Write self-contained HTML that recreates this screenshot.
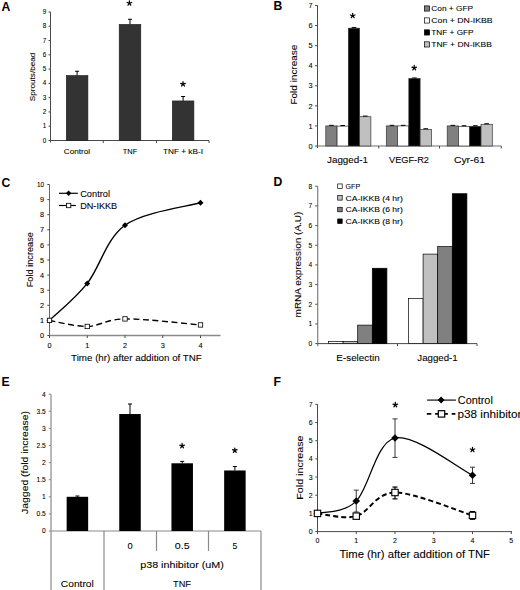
<!DOCTYPE html>
<html><head><meta charset="utf-8"><style>
html,body{margin:0;padding:0;background:#fff;}
svg{display:block;font-family:"Liberation Sans", sans-serif;}
</style></head><body>
<svg width="520" height="590" viewBox="0 0 520 590">
<rect width="520" height="590" fill="#fff"/>
<text x="1.60" y="11.30" font-size="12.2" text-anchor="start" font-weight="bold" fill="#000" >A</text>
<line x1="50.50" y1="12.00" x2="50.50" y2="142.50" stroke="#4a4a4a" stroke-width="1" />
<line x1="50.50" y1="140.50" x2="209.00" y2="140.50" stroke="#4a4a4a" stroke-width="1" />
<line x1="48.50" y1="140.50" x2="50.50" y2="140.50" stroke="#4a4a4a" stroke-width="1" />
<text x="44.50" y="142.50" font-size="6.3" text-anchor="middle" font-weight="normal" fill="#000" stroke="#000" stroke-width="0.08" >0</text>
<line x1="48.50" y1="126.22" x2="50.50" y2="126.22" stroke="#4a4a4a" stroke-width="1" />
<text x="44.50" y="128.22" font-size="6.3" text-anchor="middle" font-weight="normal" fill="#000" stroke="#000" stroke-width="0.08" >1</text>
<line x1="48.50" y1="111.94" x2="50.50" y2="111.94" stroke="#4a4a4a" stroke-width="1" />
<text x="44.50" y="113.94" font-size="6.3" text-anchor="middle" font-weight="normal" fill="#000" stroke="#000" stroke-width="0.08" >2</text>
<line x1="48.50" y1="97.66" x2="50.50" y2="97.66" stroke="#4a4a4a" stroke-width="1" />
<text x="44.50" y="99.66" font-size="6.3" text-anchor="middle" font-weight="normal" fill="#000" stroke="#000" stroke-width="0.08" >3</text>
<line x1="48.50" y1="83.38" x2="50.50" y2="83.38" stroke="#4a4a4a" stroke-width="1" />
<text x="44.50" y="85.38" font-size="6.3" text-anchor="middle" font-weight="normal" fill="#000" stroke="#000" stroke-width="0.08" >4</text>
<line x1="48.50" y1="69.10" x2="50.50" y2="69.10" stroke="#4a4a4a" stroke-width="1" />
<text x="44.50" y="71.10" font-size="6.3" text-anchor="middle" font-weight="normal" fill="#000" stroke="#000" stroke-width="0.08" >5</text>
<line x1="48.50" y1="54.82" x2="50.50" y2="54.82" stroke="#4a4a4a" stroke-width="1" />
<text x="44.50" y="56.82" font-size="6.3" text-anchor="middle" font-weight="normal" fill="#000" stroke="#000" stroke-width="0.08" >6</text>
<line x1="48.50" y1="40.54" x2="50.50" y2="40.54" stroke="#4a4a4a" stroke-width="1" />
<text x="44.50" y="42.54" font-size="6.3" text-anchor="middle" font-weight="normal" fill="#000" stroke="#000" stroke-width="0.08" >7</text>
<line x1="48.50" y1="26.26" x2="50.50" y2="26.26" stroke="#4a4a4a" stroke-width="1" />
<text x="44.50" y="28.26" font-size="6.3" text-anchor="middle" font-weight="normal" fill="#000" stroke="#000" stroke-width="0.08" >8</text>
<line x1="48.50" y1="11.98" x2="50.50" y2="11.98" stroke="#4a4a4a" stroke-width="1" />
<text x="44.50" y="13.98" font-size="6.3" text-anchor="middle" font-weight="normal" fill="#000" stroke="#000" stroke-width="0.08" >9</text>
<line x1="103.25" y1="140.50" x2="103.25" y2="143.00" stroke="#4a4a4a" stroke-width="1" />
<line x1="156.50" y1="140.50" x2="156.50" y2="143.00" stroke="#4a4a4a" stroke-width="1" />
<line x1="209.00" y1="140.50" x2="209.00" y2="143.00" stroke="#4a4a4a" stroke-width="1" />
<line x1="77.10" y1="71.25" x2="77.10" y2="75.53" stroke="#000" stroke-width="1" />
<line x1="75.10" y1="71.25" x2="79.10" y2="71.25" stroke="#000" stroke-width="1" />
<rect x="66.30" y="75.53" width="21.60" height="64.97" fill="#333" stroke="#1a1a1a" stroke-width="0.6"/>
<line x1="130.00" y1="19.25" x2="130.00" y2="24.40" stroke="#000" stroke-width="1" />
<line x1="128.00" y1="19.25" x2="132.00" y2="19.25" stroke="#000" stroke-width="1" />
<rect x="119.20" y="24.40" width="21.60" height="116.10" fill="#333" stroke="#1a1a1a" stroke-width="0.6"/>
<line x1="183.10" y1="96.50" x2="183.10" y2="100.94" stroke="#000" stroke-width="1" />
<line x1="181.10" y1="96.50" x2="185.10" y2="96.50" stroke="#000" stroke-width="1" />
<rect x="172.30" y="100.94" width="21.60" height="39.56" fill="#333" stroke="#1a1a1a" stroke-width="0.6"/>
<path d="M129.40,3.24 L129.40,0.84 M129.40,3.24 L131.68,2.50 M129.40,3.24 L130.81,5.18 M129.40,3.24 L127.99,5.18 M129.40,3.24 L127.12,2.50 " stroke="#000" stroke-width="1.25" stroke-linecap="round" fill="none"/>
<path d="M183.00,84.04 L183.00,81.64 M183.00,84.04 L185.28,83.30 M183.00,84.04 L184.41,85.98 M183.00,84.04 L181.59,85.98 M183.00,84.04 L180.72,83.30 " stroke="#000" stroke-width="1.25" stroke-linecap="round" fill="none"/>
<text x="77.00" y="154.00" font-size="7.3" text-anchor="middle" font-weight="normal" fill="#000" stroke="#000" stroke-width="0.08" textLength="26.30" lengthAdjust="spacingAndGlyphs" >Control</text>
<text x="130.00" y="154.00" font-size="7.3" text-anchor="middle" font-weight="normal" fill="#000" stroke="#000" stroke-width="0.08" textLength="14.50" lengthAdjust="spacingAndGlyphs" >TNF</text>
<text x="183.00" y="154.00" font-size="7.3" text-anchor="middle" font-weight="normal" fill="#000" stroke="#000" stroke-width="0.08" textLength="40.00" lengthAdjust="spacingAndGlyphs" >TNF + kB-I</text>
<text x="35.44" y="76.90" font-size="7.5" text-anchor="middle" font-weight="normal" fill="#000" stroke="#000" stroke-width="0.08" textLength="48.60" lengthAdjust="spacingAndGlyphs" transform="rotate(-90 35.44 76.90)" >Sprouts/bead</text>
<text x="273.60" y="9.60" font-size="12.2" text-anchor="start" font-weight="bold" fill="#000" >B</text>
<line x1="317.50" y1="5.50" x2="317.50" y2="148.00" stroke="#4a4a4a" stroke-width="1" />
<line x1="317.50" y1="146.00" x2="501.25" y2="146.00" stroke="#707070" stroke-width="1.2" />
<line x1="315.00" y1="146.00" x2="317.50" y2="146.00" stroke="#4a4a4a" stroke-width="1" />
<text x="310.60" y="148.70" font-size="7.4" text-anchor="middle" font-weight="normal" fill="#000" stroke="#000" stroke-width="0.08" >0</text>
<line x1="315.00" y1="125.93" x2="317.50" y2="125.93" stroke="#4a4a4a" stroke-width="1" />
<text x="310.60" y="128.63" font-size="7.4" text-anchor="middle" font-weight="normal" fill="#000" stroke="#000" stroke-width="0.08" >1</text>
<line x1="315.00" y1="105.86" x2="317.50" y2="105.86" stroke="#4a4a4a" stroke-width="1" />
<text x="310.60" y="108.56" font-size="7.4" text-anchor="middle" font-weight="normal" fill="#000" stroke="#000" stroke-width="0.08" >2</text>
<line x1="315.00" y1="85.79" x2="317.50" y2="85.79" stroke="#4a4a4a" stroke-width="1" />
<text x="310.60" y="88.49" font-size="7.4" text-anchor="middle" font-weight="normal" fill="#000" stroke="#000" stroke-width="0.08" >3</text>
<line x1="315.00" y1="65.72" x2="317.50" y2="65.72" stroke="#4a4a4a" stroke-width="1" />
<text x="310.60" y="68.42" font-size="7.4" text-anchor="middle" font-weight="normal" fill="#000" stroke="#000" stroke-width="0.08" >4</text>
<line x1="315.00" y1="45.65" x2="317.50" y2="45.65" stroke="#4a4a4a" stroke-width="1" />
<text x="310.60" y="48.35" font-size="7.4" text-anchor="middle" font-weight="normal" fill="#000" stroke="#000" stroke-width="0.08" >5</text>
<line x1="315.00" y1="25.58" x2="317.50" y2="25.58" stroke="#4a4a4a" stroke-width="1" />
<text x="310.60" y="28.28" font-size="7.4" text-anchor="middle" font-weight="normal" fill="#000" stroke="#000" stroke-width="0.08" >6</text>
<line x1="315.00" y1="5.51" x2="317.50" y2="5.51" stroke="#4a4a4a" stroke-width="1" />
<text x="310.60" y="8.21" font-size="7.4" text-anchor="middle" font-weight="normal" fill="#000" stroke="#000" stroke-width="0.08" >7</text>
<line x1="378.75" y1="146.00" x2="378.75" y2="148.50" stroke="#4a4a4a" stroke-width="1" />
<line x1="439.50" y1="146.00" x2="439.50" y2="148.50" stroke="#4a4a4a" stroke-width="1" />
<line x1="501.25" y1="146.00" x2="501.25" y2="148.50" stroke="#4a4a4a" stroke-width="1" />
<rect x="325.80" y="125.93" width="11.27" height="20.07" fill="#808080" stroke="#333" stroke-width="0.7"/>
<line x1="329.13" y1="125.33" x2="333.74" y2="125.33" stroke="#000" stroke-width="1.0" />
<rect x="337.07" y="126.13" width="11.27" height="19.87" fill="#ffffff" stroke="#333" stroke-width="0.7"/>
<line x1="340.40" y1="125.53" x2="345.00" y2="125.53" stroke="#000" stroke-width="1.0" />
<rect x="348.34" y="28.19" width="11.27" height="117.81" fill="#000000" stroke="#333" stroke-width="0.7"/>
<line x1="351.68" y1="27.59" x2="356.28" y2="27.59" stroke="#000" stroke-width="1.0" />
<rect x="359.61" y="116.70" width="11.27" height="29.30" fill="#c0c0c0" stroke="#333" stroke-width="0.7"/>
<line x1="362.94" y1="116.10" x2="367.55" y2="116.10" stroke="#000" stroke-width="1.0" />
<rect x="386.30" y="125.93" width="11.27" height="20.07" fill="#808080" stroke="#333" stroke-width="0.7"/>
<line x1="389.63" y1="125.33" x2="394.24" y2="125.33" stroke="#000" stroke-width="1.0" />
<rect x="397.57" y="125.93" width="11.27" height="20.07" fill="#ffffff" stroke="#333" stroke-width="0.7"/>
<line x1="400.90" y1="125.33" x2="405.50" y2="125.33" stroke="#000" stroke-width="1.0" />
<rect x="408.84" y="78.56" width="11.27" height="67.44" fill="#000000" stroke="#333" stroke-width="0.7"/>
<line x1="412.18" y1="77.96" x2="416.78" y2="77.96" stroke="#000" stroke-width="1.0" />
<rect x="420.11" y="129.34" width="11.27" height="16.66" fill="#c0c0c0" stroke="#333" stroke-width="0.7"/>
<line x1="423.44" y1="128.74" x2="428.05" y2="128.74" stroke="#000" stroke-width="1.0" />
<rect x="447.20" y="125.93" width="11.27" height="20.07" fill="#808080" stroke="#333" stroke-width="0.7"/>
<line x1="450.53" y1="125.33" x2="455.13" y2="125.33" stroke="#000" stroke-width="1.0" />
<rect x="458.47" y="126.33" width="11.27" height="19.67" fill="#ffffff" stroke="#333" stroke-width="0.7"/>
<line x1="461.80" y1="125.73" x2="466.40" y2="125.73" stroke="#000" stroke-width="1.0" />
<rect x="469.74" y="126.33" width="11.27" height="19.67" fill="#000000" stroke="#333" stroke-width="0.7"/>
<line x1="473.07" y1="125.73" x2="477.68" y2="125.73" stroke="#000" stroke-width="1.0" />
<rect x="481.01" y="124.32" width="11.27" height="21.68" fill="#c0c0c0" stroke="#333" stroke-width="0.7"/>
<line x1="484.34" y1="123.72" x2="488.94" y2="123.72" stroke="#000" stroke-width="1.0" />
<path d="M352.70,15.74 L352.70,13.34 M352.70,15.74 L354.98,15.00 M352.70,15.74 L354.11,17.68 M352.70,15.74 L351.29,17.68 M352.70,15.74 L350.42,15.00 " stroke="#000" stroke-width="1.25" stroke-linecap="round" fill="none"/>
<path d="M414.20,67.84 L414.20,65.44 M414.20,67.84 L416.48,67.10 M414.20,67.84 L415.61,69.78 M414.20,67.84 L412.79,69.78 M414.20,67.84 L411.92,67.10 " stroke="#000" stroke-width="1.25" stroke-linecap="round" fill="none"/>
<text x="347.50" y="162.80" font-size="9.6" text-anchor="middle" font-weight="normal" fill="#000" stroke="#000" stroke-width="0.08" textLength="41.00" lengthAdjust="spacingAndGlyphs" >Jagged-1</text>
<text x="409.00" y="162.80" font-size="9.6" text-anchor="middle" font-weight="normal" fill="#000" stroke="#000" stroke-width="0.08" textLength="40.00" lengthAdjust="spacingAndGlyphs" >VEGF-R2</text>
<text x="469.50" y="162.80" font-size="9.6" text-anchor="middle" font-weight="normal" fill="#000" stroke="#000" stroke-width="0.08" textLength="31.20" lengthAdjust="spacingAndGlyphs" >Cyr-61</text>
<text x="297.27" y="74.60" font-size="9.4" text-anchor="middle" font-weight="normal" fill="#000" stroke="#000" stroke-width="0.08" textLength="59.80" lengthAdjust="spacingAndGlyphs" transform="rotate(-90 297.27 74.60)" >Fold increase</text>
<rect x="424.40" y="5.90" width="5.20" height="5.20" fill="#808080" stroke="#000" stroke-width="0.7"/>
<text x="431.30" y="11.35" font-size="8.0" text-anchor="start" font-weight="normal" fill="#000" stroke="#000" stroke-width="0.08" textLength="41.70" lengthAdjust="spacingAndGlyphs" >Con + GFP</text>
<rect x="424.40" y="17.87" width="5.20" height="5.20" fill="#ffffff" stroke="#000" stroke-width="0.7"/>
<text x="431.30" y="23.32" font-size="8.0" text-anchor="start" font-weight="normal" fill="#000" stroke="#000" stroke-width="0.08" textLength="61.40" lengthAdjust="spacingAndGlyphs" >Con + DN-IKBB</text>
<rect x="424.40" y="29.84" width="5.20" height="5.20" fill="#000000" stroke="#000" stroke-width="0.7"/>
<text x="431.30" y="35.29" font-size="8.0" text-anchor="start" font-weight="normal" fill="#000" stroke="#000" stroke-width="0.08" textLength="42.30" lengthAdjust="spacingAndGlyphs" >TNF + GFP</text>
<rect x="424.40" y="41.81" width="5.20" height="5.20" fill="#c0c0c0" stroke="#000" stroke-width="0.7"/>
<text x="431.30" y="47.26" font-size="8.0" text-anchor="start" font-weight="normal" fill="#000" stroke="#000" stroke-width="0.08" textLength="60.50" lengthAdjust="spacingAndGlyphs" >TNF + DN-IKBB</text>
<text x="1.60" y="186.60" font-size="12.2" text-anchor="start" font-weight="bold" fill="#000" >C</text>
<line x1="49.50" y1="184.50" x2="49.50" y2="337.80" stroke="#6a6a6a" stroke-width="1" />
<line x1="49.50" y1="335.50" x2="220.50" y2="335.50" stroke="#8a8a8a" stroke-width="1.3" />
<line x1="47.30" y1="335.50" x2="49.50" y2="335.50" stroke="#4a4a4a" stroke-width="1" />
<text x="42.00" y="338.10" font-size="7.3" text-anchor="middle" font-weight="normal" fill="#000" stroke="#000" stroke-width="0.08" >0</text>
<line x1="47.30" y1="320.40" x2="49.50" y2="320.40" stroke="#4a4a4a" stroke-width="1" />
<text x="42.00" y="323.00" font-size="7.3" text-anchor="middle" font-weight="normal" fill="#000" stroke="#000" stroke-width="0.08" >1</text>
<line x1="47.30" y1="305.30" x2="49.50" y2="305.30" stroke="#4a4a4a" stroke-width="1" />
<text x="42.00" y="307.90" font-size="7.3" text-anchor="middle" font-weight="normal" fill="#000" stroke="#000" stroke-width="0.08" >2</text>
<line x1="47.30" y1="290.20" x2="49.50" y2="290.20" stroke="#4a4a4a" stroke-width="1" />
<text x="42.00" y="292.80" font-size="7.3" text-anchor="middle" font-weight="normal" fill="#000" stroke="#000" stroke-width="0.08" >3</text>
<line x1="47.30" y1="275.10" x2="49.50" y2="275.10" stroke="#4a4a4a" stroke-width="1" />
<text x="42.00" y="277.70" font-size="7.3" text-anchor="middle" font-weight="normal" fill="#000" stroke="#000" stroke-width="0.08" >4</text>
<line x1="47.30" y1="260.00" x2="49.50" y2="260.00" stroke="#4a4a4a" stroke-width="1" />
<text x="42.00" y="262.60" font-size="7.3" text-anchor="middle" font-weight="normal" fill="#000" stroke="#000" stroke-width="0.08" >5</text>
<line x1="47.30" y1="244.90" x2="49.50" y2="244.90" stroke="#4a4a4a" stroke-width="1" />
<text x="42.00" y="247.50" font-size="7.3" text-anchor="middle" font-weight="normal" fill="#000" stroke="#000" stroke-width="0.08" >6</text>
<line x1="47.30" y1="229.80" x2="49.50" y2="229.80" stroke="#4a4a4a" stroke-width="1" />
<text x="42.00" y="232.40" font-size="7.3" text-anchor="middle" font-weight="normal" fill="#000" stroke="#000" stroke-width="0.08" >7</text>
<line x1="47.30" y1="214.70" x2="49.50" y2="214.70" stroke="#4a4a4a" stroke-width="1" />
<text x="42.00" y="217.30" font-size="7.3" text-anchor="middle" font-weight="normal" fill="#000" stroke="#000" stroke-width="0.08" >8</text>
<line x1="47.30" y1="199.60" x2="49.50" y2="199.60" stroke="#4a4a4a" stroke-width="1" />
<text x="42.00" y="202.20" font-size="7.3" text-anchor="middle" font-weight="normal" fill="#000" stroke="#000" stroke-width="0.08" >9</text>
<line x1="47.30" y1="184.50" x2="49.50" y2="184.50" stroke="#4a4a4a" stroke-width="1" />
<text x="40.60" y="187.10" font-size="7.3" text-anchor="middle" font-weight="normal" fill="#000" stroke="#000" stroke-width="0.08" textLength="7.20" lengthAdjust="spacingAndGlyphs" >10</text>
<line x1="49.50" y1="335.50" x2="49.50" y2="338.00" stroke="#4a4a4a" stroke-width="1" />
<text x="49.50" y="348.30" font-size="7.3" text-anchor="middle" font-weight="normal" fill="#000" stroke="#000" stroke-width="0.08" >0</text>
<line x1="87.25" y1="335.50" x2="87.25" y2="338.00" stroke="#4a4a4a" stroke-width="1" />
<text x="87.25" y="348.30" font-size="7.3" text-anchor="middle" font-weight="normal" fill="#000" stroke="#000" stroke-width="0.08" >1</text>
<line x1="125.00" y1="335.50" x2="125.00" y2="338.00" stroke="#4a4a4a" stroke-width="1" />
<text x="125.00" y="348.30" font-size="7.3" text-anchor="middle" font-weight="normal" fill="#000" stroke="#000" stroke-width="0.08" >2</text>
<line x1="162.75" y1="335.50" x2="162.75" y2="338.00" stroke="#4a4a4a" stroke-width="1" />
<text x="162.75" y="348.30" font-size="7.3" text-anchor="middle" font-weight="normal" fill="#000" stroke="#000" stroke-width="0.08" >3</text>
<line x1="200.50" y1="335.50" x2="200.50" y2="338.00" stroke="#4a4a4a" stroke-width="1" />
<text x="200.50" y="348.30" font-size="7.3" text-anchor="middle" font-weight="normal" fill="#000" stroke="#000" stroke-width="0.08" >4</text>
<text x="136.45" y="360.90" font-size="8.9" text-anchor="middle" font-weight="normal" fill="#000" stroke="#000" stroke-width="0.08" textLength="130.70" lengthAdjust="spacingAndGlyphs" >Time (hr) after addition of TNF</text>
<text x="32.89" y="259.70" font-size="8.9" text-anchor="middle" font-weight="normal" fill="#000" stroke="#000" stroke-width="0.08" textLength="55.20" lengthAdjust="spacingAndGlyphs" transform="rotate(-90 32.89 259.70)" >Fold increase</text>
<path d="M49.50,320.40 C55.79,314.23 74.67,299.26 87.25,283.40 C99.83,267.55 106.12,238.71 125.00,225.27 C143.88,211.83 187.92,206.52 200.50,202.77" fill="none" stroke="#000" stroke-width="1.4"/>
<path d="M49.50,320.40 C55.79,321.41 74.67,326.69 87.25,326.44 C99.83,326.19 106.12,319.14 125.00,318.89 C143.88,318.64 187.92,323.92 200.50,324.93" fill="none" stroke="#000" stroke-width="1.4" stroke-dasharray="6,3.5"/>
<path d="M49.50,317.40 L52.50,320.40 L49.50,323.40 L46.50,320.40 Z" fill="#000"/>
<path d="M87.25,280.40 L90.25,283.40 L87.25,286.40 L84.25,283.40 Z" fill="#000"/>
<path d="M125.00,222.27 L128.00,225.27 L125.00,228.27 L122.00,225.27 Z" fill="#000"/>
<path d="M200.50,199.77 L203.50,202.77 L200.50,205.77 L197.50,202.77 Z" fill="#000"/>
<rect x="47.30" y="318.20" width="4.40" height="4.40" fill="#fff" stroke="#000" stroke-width="0.8"/>
<rect x="85.05" y="324.24" width="4.40" height="4.40" fill="#fff" stroke="#000" stroke-width="0.8"/>
<rect x="122.80" y="316.69" width="4.40" height="4.40" fill="#fff" stroke="#000" stroke-width="0.8"/>
<rect x="198.30" y="322.73" width="4.40" height="4.40" fill="#fff" stroke="#000" stroke-width="0.8"/>
<line x1="59.00" y1="193.30" x2="77.80" y2="193.30" stroke="#000" stroke-width="1.2" />
<path d="M68.60,190.50 L71.40,193.30 L68.60,196.10 L65.80,193.30 Z" fill="#000"/>
<text x="80.20" y="196.60" font-size="9.0" text-anchor="start" font-weight="normal" fill="#000" stroke="#000" stroke-width="0.08" textLength="29.80" lengthAdjust="spacingAndGlyphs" >Control</text>
<line x1="59.00" y1="205.50" x2="75.80" y2="205.50" stroke="#000" stroke-width="1.2" />
<rect x="66.40" y="203.30" width="4.40" height="4.40" fill="#fff" stroke="#000" stroke-width="0.8"/>
<text x="80.20" y="208.80" font-size="9.0" text-anchor="start" font-weight="normal" fill="#000" stroke="#000" stroke-width="0.08" textLength="37.00" lengthAdjust="spacingAndGlyphs" >DN-IKKB</text>
<text x="273.60" y="185.60" font-size="12.2" text-anchor="start" font-weight="bold" fill="#000" >D</text>
<line x1="317.70" y1="186.25" x2="317.70" y2="346.30" stroke="#808080" stroke-width="1.2" />
<line x1="317.50" y1="343.60" x2="477.00" y2="343.60" stroke="#4a4a4a" stroke-width="1" />
<line x1="315.30" y1="343.60" x2="317.50" y2="343.60" stroke="#4a4a4a" stroke-width="1" />
<text x="310.40" y="346.00" font-size="6.6" text-anchor="middle" font-weight="normal" fill="#000" stroke="#000" stroke-width="0.08" >0</text>
<line x1="315.30" y1="323.93" x2="317.50" y2="323.93" stroke="#4a4a4a" stroke-width="1" />
<text x="310.40" y="326.33" font-size="6.6" text-anchor="middle" font-weight="normal" fill="#000" stroke="#000" stroke-width="0.08" >1</text>
<line x1="315.30" y1="304.26" x2="317.50" y2="304.26" stroke="#4a4a4a" stroke-width="1" />
<text x="310.40" y="306.66" font-size="6.6" text-anchor="middle" font-weight="normal" fill="#000" stroke="#000" stroke-width="0.08" >2</text>
<line x1="315.30" y1="284.59" x2="317.50" y2="284.59" stroke="#4a4a4a" stroke-width="1" />
<text x="310.40" y="286.99" font-size="6.6" text-anchor="middle" font-weight="normal" fill="#000" stroke="#000" stroke-width="0.08" >3</text>
<line x1="315.30" y1="264.92" x2="317.50" y2="264.92" stroke="#4a4a4a" stroke-width="1" />
<text x="310.40" y="267.32" font-size="6.6" text-anchor="middle" font-weight="normal" fill="#000" stroke="#000" stroke-width="0.08" >4</text>
<line x1="315.30" y1="245.25" x2="317.50" y2="245.25" stroke="#4a4a4a" stroke-width="1" />
<text x="310.40" y="247.65" font-size="6.6" text-anchor="middle" font-weight="normal" fill="#000" stroke="#000" stroke-width="0.08" >5</text>
<line x1="315.30" y1="225.58" x2="317.50" y2="225.58" stroke="#4a4a4a" stroke-width="1" />
<text x="310.40" y="227.98" font-size="6.6" text-anchor="middle" font-weight="normal" fill="#000" stroke="#000" stroke-width="0.08" >6</text>
<line x1="315.30" y1="205.91" x2="317.50" y2="205.91" stroke="#4a4a4a" stroke-width="1" />
<text x="310.40" y="208.31" font-size="6.6" text-anchor="middle" font-weight="normal" fill="#000" stroke="#000" stroke-width="0.08" >7</text>
<line x1="315.30" y1="186.24" x2="317.50" y2="186.24" stroke="#4a4a4a" stroke-width="1" />
<text x="310.40" y="188.64" font-size="6.6" text-anchor="middle" font-weight="normal" fill="#000" stroke="#000" stroke-width="0.08" >8</text>
<line x1="397.50" y1="343.60" x2="397.50" y2="346.10" stroke="#4a4a4a" stroke-width="1" />
<line x1="477.00" y1="343.60" x2="477.00" y2="346.10" stroke="#4a4a4a" stroke-width="1" />
<rect x="328.50" y="341.44" width="14.60" height="2.16" fill="#ffffff" stroke="#000" stroke-width="0.7"/>
<rect x="343.10" y="341.44" width="14.60" height="2.16" fill="#c0c0c0" stroke="#000" stroke-width="0.7"/>
<rect x="357.70" y="325.11" width="14.60" height="18.49" fill="#808080" stroke="#000" stroke-width="0.7"/>
<rect x="372.30" y="268.26" width="14.60" height="75.34" fill="#000000" stroke="#000" stroke-width="0.7"/>
<rect x="408.50" y="298.36" width="14.60" height="45.24" fill="#ffffff" stroke="#000" stroke-width="0.7"/>
<rect x="423.10" y="254.10" width="14.60" height="89.50" fill="#c0c0c0" stroke="#000" stroke-width="0.7"/>
<rect x="437.70" y="246.63" width="14.60" height="96.97" fill="#808080" stroke="#000" stroke-width="0.7"/>
<rect x="452.30" y="193.71" width="14.60" height="149.89" fill="#000000" stroke="#000" stroke-width="0.7"/>
<text x="358.00" y="360.70" font-size="9.0" text-anchor="middle" font-weight="normal" fill="#000" stroke="#000" stroke-width="0.08" textLength="43.30" lengthAdjust="spacingAndGlyphs" >E-selectin</text>
<text x="437.50" y="360.70" font-size="9.0" text-anchor="middle" font-weight="normal" fill="#000" stroke="#000" stroke-width="0.08" textLength="40.40" lengthAdjust="spacingAndGlyphs" >Jagged-1</text>
<text x="300.82" y="264.50" font-size="9.0" text-anchor="middle" font-weight="normal" fill="#000" stroke="#000" stroke-width="0.08" textLength="105.80" lengthAdjust="spacingAndGlyphs" transform="rotate(-90 300.82 264.50)" >mRNA expression (A.U)</text>
<rect x="337.70" y="183.95" width="4.50" height="4.50" fill="#ffffff" stroke="#000" stroke-width="0.7"/>
<text x="345.60" y="188.85" font-size="7.4" text-anchor="start" font-weight="normal" fill="#000" stroke="#000" stroke-width="0.08" textLength="14.60" lengthAdjust="spacingAndGlyphs" >GFP</text>
<rect x="337.70" y="195.62" width="4.50" height="4.50" fill="#c0c0c0" stroke="#000" stroke-width="0.7"/>
<text x="345.60" y="200.52" font-size="7.4" text-anchor="start" font-weight="normal" fill="#000" stroke="#000" stroke-width="0.08" textLength="57.20" lengthAdjust="spacingAndGlyphs" >CA-IKKB (4 hr)</text>
<rect x="337.70" y="207.29" width="4.50" height="4.50" fill="#808080" stroke="#000" stroke-width="0.7"/>
<text x="345.60" y="212.19" font-size="7.4" text-anchor="start" font-weight="normal" fill="#000" stroke="#000" stroke-width="0.08" textLength="57.20" lengthAdjust="spacingAndGlyphs" >CA-IKKB (6 hr)</text>
<rect x="337.70" y="218.96" width="4.50" height="4.50" fill="#000000" stroke="#000" stroke-width="0.7"/>
<text x="345.60" y="223.86" font-size="7.4" text-anchor="start" font-weight="normal" fill="#000" stroke="#000" stroke-width="0.08" textLength="57.20" lengthAdjust="spacingAndGlyphs" >CA-IKKB (8 hr)</text>
<text x="1.60" y="386.20" font-size="12.2" text-anchor="start" font-weight="bold" fill="#000" >E</text>
<line x1="51.00" y1="394.20" x2="51.00" y2="590.00" stroke="#8a8a8a" stroke-width="1.2" />
<line x1="51.00" y1="531.00" x2="261.00" y2="531.00" stroke="#8a8a8a" stroke-width="1.2" />
<line x1="104.00" y1="531.00" x2="104.00" y2="590.00" stroke="#8a8a8a" stroke-width="1.2" />
<line x1="156.50" y1="531.00" x2="156.50" y2="551.00" stroke="#8a8a8a" stroke-width="1.2" />
<line x1="208.50" y1="531.00" x2="208.50" y2="551.00" stroke="#8a8a8a" stroke-width="1.2" />
<line x1="261.00" y1="531.00" x2="261.00" y2="590.00" stroke="#8a8a8a" stroke-width="1.2" />
<line x1="48.80" y1="531.00" x2="51.00" y2="531.00" stroke="#8a8a8a" stroke-width="1" />
<text x="45.80" y="533.30" font-size="6.7" text-anchor="end" font-weight="normal" fill="#000" stroke="#000" stroke-width="0.08" >0</text>
<line x1="48.80" y1="513.90" x2="51.00" y2="513.90" stroke="#8a8a8a" stroke-width="1" />
<text x="45.80" y="516.20" font-size="6.7" text-anchor="end" font-weight="normal" fill="#000" stroke="#000" stroke-width="0.08" >0.5</text>
<line x1="48.80" y1="496.80" x2="51.00" y2="496.80" stroke="#8a8a8a" stroke-width="1" />
<text x="45.80" y="499.10" font-size="6.7" text-anchor="end" font-weight="normal" fill="#000" stroke="#000" stroke-width="0.08" >1</text>
<line x1="48.80" y1="479.70" x2="51.00" y2="479.70" stroke="#8a8a8a" stroke-width="1" />
<text x="45.80" y="482.00" font-size="6.7" text-anchor="end" font-weight="normal" fill="#000" stroke="#000" stroke-width="0.08" >1.5</text>
<line x1="48.80" y1="462.60" x2="51.00" y2="462.60" stroke="#8a8a8a" stroke-width="1" />
<text x="45.80" y="464.90" font-size="6.7" text-anchor="end" font-weight="normal" fill="#000" stroke="#000" stroke-width="0.08" >2</text>
<line x1="48.80" y1="445.50" x2="51.00" y2="445.50" stroke="#8a8a8a" stroke-width="1" />
<text x="45.80" y="447.80" font-size="6.7" text-anchor="end" font-weight="normal" fill="#000" stroke="#000" stroke-width="0.08" >2.5</text>
<line x1="48.80" y1="428.40" x2="51.00" y2="428.40" stroke="#8a8a8a" stroke-width="1" />
<text x="45.80" y="430.70" font-size="6.7" text-anchor="end" font-weight="normal" fill="#000" stroke="#000" stroke-width="0.08" >3</text>
<line x1="48.80" y1="411.30" x2="51.00" y2="411.30" stroke="#8a8a8a" stroke-width="1" />
<text x="45.80" y="413.60" font-size="6.7" text-anchor="end" font-weight="normal" fill="#000" stroke="#000" stroke-width="0.08" >3.5</text>
<line x1="48.80" y1="394.20" x2="51.00" y2="394.20" stroke="#8a8a8a" stroke-width="1" />
<text x="45.80" y="396.50" font-size="6.7" text-anchor="end" font-weight="normal" fill="#000" stroke="#000" stroke-width="0.08" >4</text>
<line x1="77.40" y1="496.00" x2="77.40" y2="496.80" stroke="#000" stroke-width="1" />
<line x1="75.40" y1="496.00" x2="79.40" y2="496.00" stroke="#000" stroke-width="1" />
<rect x="66.65" y="496.80" width="21.50" height="34.20" fill="#000" stroke="none" stroke-width="0.8"/>
<line x1="130.00" y1="404.00" x2="130.00" y2="414.04" stroke="#000" stroke-width="1" />
<line x1="128.00" y1="404.00" x2="132.00" y2="404.00" stroke="#000" stroke-width="1" />
<rect x="119.25" y="414.04" width="21.50" height="116.96" fill="#000" stroke="none" stroke-width="0.8"/>
<line x1="182.20" y1="461.40" x2="182.20" y2="463.28" stroke="#000" stroke-width="1" />
<line x1="180.20" y1="461.40" x2="184.20" y2="461.40" stroke="#000" stroke-width="1" />
<rect x="171.45" y="463.28" width="21.50" height="67.72" fill="#000" stroke="none" stroke-width="0.8"/>
<line x1="234.90" y1="466.50" x2="234.90" y2="470.47" stroke="#000" stroke-width="1" />
<line x1="232.90" y1="466.50" x2="236.90" y2="466.50" stroke="#000" stroke-width="1" />
<rect x="224.15" y="470.47" width="21.50" height="60.53" fill="#000" stroke="none" stroke-width="0.8"/>
<path d="M182.10,445.84 L182.10,443.44 M182.10,445.84 L184.38,445.10 M182.10,445.84 L183.51,447.78 M182.10,445.84 L180.69,447.78 M182.10,445.84 L179.82,445.10 " stroke="#000" stroke-width="1.25" stroke-linecap="round" fill="none"/>
<path d="M234.80,450.44 L234.80,448.04 M234.80,450.44 L237.08,449.70 M234.80,450.44 L236.21,452.38 M234.80,450.44 L233.39,452.38 M234.80,450.44 L232.52,449.70 " stroke="#000" stroke-width="1.25" stroke-linecap="round" fill="none"/>
<text x="130.00" y="548.70" font-size="8.8" text-anchor="middle" font-weight="normal" fill="#000" stroke="#000" stroke-width="0.08" textLength="5.20" lengthAdjust="spacingAndGlyphs" >0</text>
<text x="182.20" y="548.70" font-size="8.8" text-anchor="middle" font-weight="normal" fill="#000" stroke="#000" stroke-width="0.08" textLength="14.80" lengthAdjust="spacingAndGlyphs" >0.5</text>
<text x="234.90" y="548.70" font-size="8.8" text-anchor="middle" font-weight="normal" fill="#000" stroke="#000" stroke-width="0.08" textLength="4.80" lengthAdjust="spacingAndGlyphs" >5</text>
<text x="182.05" y="567.50" font-size="8.9" text-anchor="middle" font-weight="normal" fill="#000" stroke="#000" stroke-width="0.08" textLength="83.70" lengthAdjust="spacingAndGlyphs" >p38 inhibitor (uM)</text>
<text x="77.30" y="586.50" font-size="8.9" text-anchor="middle" font-weight="normal" fill="#000" stroke="#000" stroke-width="0.08" textLength="32.90" lengthAdjust="spacingAndGlyphs" >Control</text>
<text x="182.00" y="586.80" font-size="9.2" text-anchor="middle" font-weight="normal" fill="#000" stroke="#000" stroke-width="0.08" textLength="17.80" lengthAdjust="spacingAndGlyphs" >TNF</text>
<text x="27.91" y="462.50" font-size="9.8" text-anchor="middle" font-weight="normal" fill="#000" stroke="#000" stroke-width="0.08" textLength="102.80" lengthAdjust="spacingAndGlyphs" transform="rotate(-90 27.91 462.50)" >Jagged (fold increase)</text>
<text x="273.60" y="386.20" font-size="12.2" text-anchor="start" font-weight="bold" fill="#000" >F</text>
<line x1="317.50" y1="404.25" x2="317.50" y2="534.00" stroke="#4a4a4a" stroke-width="1" />
<line x1="317.50" y1="531.60" x2="512.00" y2="531.60" stroke="#4a4a4a" stroke-width="1" />
<line x1="315.30" y1="531.60" x2="317.50" y2="531.60" stroke="#4a4a4a" stroke-width="1" />
<text x="310.80" y="534.10" font-size="7.0" text-anchor="middle" font-weight="normal" fill="#000" stroke="#000" stroke-width="0.08" >0</text>
<line x1="315.30" y1="513.42" x2="317.50" y2="513.42" stroke="#4a4a4a" stroke-width="1" />
<text x="310.80" y="515.92" font-size="7.0" text-anchor="middle" font-weight="normal" fill="#000" stroke="#000" stroke-width="0.08" >1</text>
<line x1="315.30" y1="495.24" x2="317.50" y2="495.24" stroke="#4a4a4a" stroke-width="1" />
<text x="310.80" y="497.74" font-size="7.0" text-anchor="middle" font-weight="normal" fill="#000" stroke="#000" stroke-width="0.08" >2</text>
<line x1="315.30" y1="477.06" x2="317.50" y2="477.06" stroke="#4a4a4a" stroke-width="1" />
<text x="310.80" y="479.56" font-size="7.0" text-anchor="middle" font-weight="normal" fill="#000" stroke="#000" stroke-width="0.08" >3</text>
<line x1="315.30" y1="458.88" x2="317.50" y2="458.88" stroke="#4a4a4a" stroke-width="1" />
<text x="310.80" y="461.38" font-size="7.0" text-anchor="middle" font-weight="normal" fill="#000" stroke="#000" stroke-width="0.08" >4</text>
<line x1="315.30" y1="440.70" x2="317.50" y2="440.70" stroke="#4a4a4a" stroke-width="1" />
<text x="310.80" y="443.20" font-size="7.0" text-anchor="middle" font-weight="normal" fill="#000" stroke="#000" stroke-width="0.08" >5</text>
<line x1="315.30" y1="422.52" x2="317.50" y2="422.52" stroke="#4a4a4a" stroke-width="1" />
<text x="310.80" y="425.02" font-size="7.0" text-anchor="middle" font-weight="normal" fill="#000" stroke="#000" stroke-width="0.08" >6</text>
<line x1="315.30" y1="404.34" x2="317.50" y2="404.34" stroke="#4a4a4a" stroke-width="1" />
<text x="310.80" y="406.84" font-size="7.0" text-anchor="middle" font-weight="normal" fill="#000" stroke="#000" stroke-width="0.08" >7</text>
<line x1="317.50" y1="531.60" x2="317.50" y2="534.10" stroke="#4a4a4a" stroke-width="1" />
<text x="317.50" y="543.40" font-size="7.0" text-anchor="middle" font-weight="normal" fill="#000" stroke="#000" stroke-width="0.08" >0</text>
<line x1="356.25" y1="531.60" x2="356.25" y2="534.10" stroke="#4a4a4a" stroke-width="1" />
<text x="356.25" y="543.40" font-size="7.0" text-anchor="middle" font-weight="normal" fill="#000" stroke="#000" stroke-width="0.08" >1</text>
<line x1="395.00" y1="531.60" x2="395.00" y2="534.10" stroke="#4a4a4a" stroke-width="1" />
<text x="395.00" y="543.40" font-size="7.0" text-anchor="middle" font-weight="normal" fill="#000" stroke="#000" stroke-width="0.08" >2</text>
<line x1="433.75" y1="531.60" x2="433.75" y2="534.10" stroke="#4a4a4a" stroke-width="1" />
<text x="433.75" y="543.40" font-size="7.0" text-anchor="middle" font-weight="normal" fill="#000" stroke="#000" stroke-width="0.08" >3</text>
<line x1="472.50" y1="531.60" x2="472.50" y2="534.10" stroke="#4a4a4a" stroke-width="1" />
<text x="472.50" y="543.40" font-size="7.0" text-anchor="middle" font-weight="normal" fill="#000" stroke="#000" stroke-width="0.08" >4</text>
<line x1="511.25" y1="531.60" x2="511.25" y2="534.10" stroke="#4a4a4a" stroke-width="1" />
<text x="511.25" y="543.40" font-size="7.0" text-anchor="middle" font-weight="normal" fill="#000" stroke="#000" stroke-width="0.08" >5</text>
<text x="414.70" y="557.90" font-size="10.2" text-anchor="middle" font-weight="normal" fill="#000" stroke="#000" stroke-width="0.08" textLength="150.60" lengthAdjust="spacingAndGlyphs" >Time (hr) after addition of TNF</text>
<text x="302.91" y="467.60" font-size="9.8" text-anchor="middle" font-weight="normal" fill="#000" stroke="#000" stroke-width="0.08" textLength="64.20" lengthAdjust="spacingAndGlyphs" transform="rotate(-90 302.91 467.60)" >Fold increase</text>
<path d="M317.50,513.42 C323.96,511.36 343.33,513.63 356.25,501.06 C369.17,488.48 375.62,442.28 395.00,437.97 C414.38,433.67 459.58,469.03 472.50,475.24" fill="none" stroke="#000" stroke-width="1.2"/>
<path d="M317.50,513.42 C323.96,513.87 343.33,519.63 356.25,516.15 C369.17,512.66 375.62,492.63 395.00,492.51 C414.38,492.39 459.58,511.60 472.50,515.42" fill="none" stroke="#000" stroke-width="2.0" stroke-dasharray="5,3"/>
<line x1="356.25" y1="490.15" x2="356.25" y2="511.97" stroke="#222" stroke-width="0.9" />
<line x1="353.75" y1="490.15" x2="358.75" y2="490.15" stroke="#222" stroke-width="0.9" />
<line x1="353.75" y1="511.97" x2="358.75" y2="511.97" stroke="#222" stroke-width="0.9" />
<line x1="395.00" y1="418.88" x2="395.00" y2="457.43" stroke="#222" stroke-width="0.9" />
<line x1="392.50" y1="418.88" x2="397.50" y2="418.88" stroke="#222" stroke-width="0.9" />
<line x1="392.50" y1="457.43" x2="397.50" y2="457.43" stroke="#222" stroke-width="0.9" />
<line x1="472.50" y1="467.24" x2="472.50" y2="483.42" stroke="#222" stroke-width="0.9" />
<line x1="470.00" y1="467.24" x2="475.00" y2="467.24" stroke="#222" stroke-width="0.9" />
<line x1="470.00" y1="483.42" x2="475.00" y2="483.42" stroke="#222" stroke-width="0.9" />
<line x1="395.00" y1="487.06" x2="395.00" y2="498.88" stroke="#000" stroke-width="1.2" />
<line x1="392.50" y1="487.06" x2="397.50" y2="487.06" stroke="#000" stroke-width="1.2" />
<line x1="392.50" y1="498.88" x2="397.50" y2="498.88" stroke="#000" stroke-width="1.2" />
<line x1="472.50" y1="511.60" x2="472.50" y2="519.24" stroke="#000" stroke-width="1.2" />
<line x1="470.00" y1="511.60" x2="475.00" y2="511.60" stroke="#000" stroke-width="1.2" />
<line x1="470.00" y1="519.24" x2="475.00" y2="519.24" stroke="#000" stroke-width="1.2" />
<path d="M317.50,509.62 L321.30,513.42 L317.50,517.22 L313.70,513.42 Z" fill="#000"/>
<path d="M356.25,497.26 L360.05,501.06 L356.25,504.86 L352.45,501.06 Z" fill="#000"/>
<path d="M395.00,434.17 L398.80,437.97 L395.00,441.77 L391.20,437.97 Z" fill="#000"/>
<path d="M472.50,471.44 L476.30,475.24 L472.50,479.04 L468.70,475.24 Z" fill="#000"/>
<rect x="314.30" y="510.22" width="6.40" height="6.40" fill="#fff" stroke="#000" stroke-width="1.1"/>
<rect x="353.05" y="512.95" width="6.40" height="6.40" fill="#fff" stroke="#000" stroke-width="1.1"/>
<rect x="391.80" y="489.31" width="6.40" height="6.40" fill="#fff" stroke="#000" stroke-width="1.1"/>
<rect x="469.30" y="512.22" width="6.40" height="6.40" fill="#fff" stroke="#000" stroke-width="1.1"/>
<path d="M395.30,404.84 L395.30,402.44 M395.30,404.84 L397.58,404.10 M395.30,404.84 L396.71,406.78 M395.30,404.84 L393.89,406.78 M395.30,404.84 L393.02,404.10 " stroke="#000" stroke-width="1.25" stroke-linecap="round" fill="none"/>
<path d="M472.50,449.74 L472.50,447.34 M472.50,449.74 L474.78,449.00 M472.50,449.74 L473.91,451.68 M472.50,449.74 L471.09,451.68 M472.50,449.74 L470.22,449.00 " stroke="#000" stroke-width="1.25" stroke-linecap="round" fill="none"/>
<line x1="427.10" y1="400.10" x2="455.90" y2="400.10" stroke="#222" stroke-width="1.3" />
<path d="M441.10,396.60 L444.60,400.10 L441.10,403.60 L437.60,400.10 Z" fill="#000"/>
<text x="457.80" y="403.80" font-size="10.2" text-anchor="start" font-weight="normal" fill="#000" stroke="#000" stroke-width="0.08" textLength="35.00" lengthAdjust="spacingAndGlyphs" >Control</text>
<line x1="426.80" y1="413.90" x2="455.40" y2="413.90" stroke="#000" stroke-width="1.8" stroke-dasharray="4.5,3.8"/>
<rect x="438.30" y="410.70" width="6.40" height="6.40" fill="#fff" stroke="#000" stroke-width="1.2"/>
<text x="457.50" y="418.20" font-size="10.2" text-anchor="start" font-weight="normal" fill="#000" stroke="#000" stroke-width="0.08" textLength="64.00" lengthAdjust="spacingAndGlyphs" >p38 inhibitor</text>
</svg>
</body></html>
